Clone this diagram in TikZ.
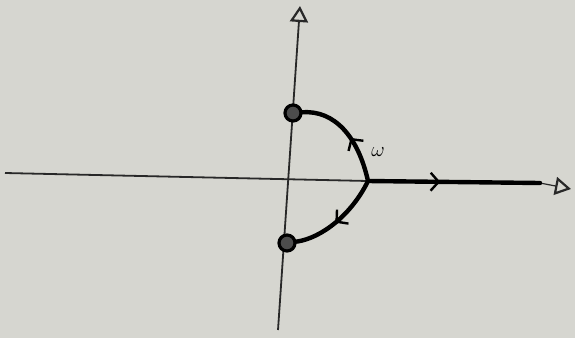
\documentclass[tikz,border=0pt]{standalone}
\usetikzlibrary{arrows.meta,decorations.markings}
\definecolor{paper}{RGB}{214,214,208}
\definecolor{axisc}{RGB}{40,40,40}
\begin{document}
\begin{tikzpicture}[x=1pt,y=-1pt,
  axis/.style={draw=axisc, line width=1.8pt},
  opentip/.style={-{Triangle[open,length=16pt,width=18pt,line width=2.2pt]}},
  locus/.style={draw=black, line width=4.4pt, line cap=round, line join=round},
  pole/.style={circle, draw=black, fill=black!70, line width=3.2pt, minimum size=16pt, inner sep=0pt},
  midarrow/.style={postaction={decorate}, decoration={markings,
     mark=at position #1 with {\arrow[line width=2.4pt]{Straight Barb[length=8pt,width=18pt]}}}},
  lbl/.style={font=\huge, inner sep=1pt}
]
\useasboundingbox (0,0) rectangle (575,338);
\fill[paper] (0,0) rectangle (575,338);

\coordinate (top) at (300,6);
\coordinate (bot) at (278,330);
\coordinate (left) at (5,173);
\coordinate (b) at (368,181);
\coordinate (rend) at (540,183);
\coordinate (rtip) at (571,189);

% axes
\draw[axis, opentip] (bot) -- (top);
\draw[axis] (left) -- (b);
\draw[axis, line width=1.2pt, opentip] (rend) -- (rtip);

% poles
\node[pole] (p1) at (293,113) {};
\node[pole] (p2) at (287,243) {};

% loci
\draw[locus, midarrow=0.45] (b) .. controls (358,136) and (334,110) .. (p1);
\draw[locus, midarrow=0.55] (b) .. controls (352,214) and (322,238) .. (p2);
\draw[locus, midarrow=0.42] (b) -- (rend);

\node[lbl] (w) at (378,152) {$\omega$};
\end{tikzpicture}
\end{document}
